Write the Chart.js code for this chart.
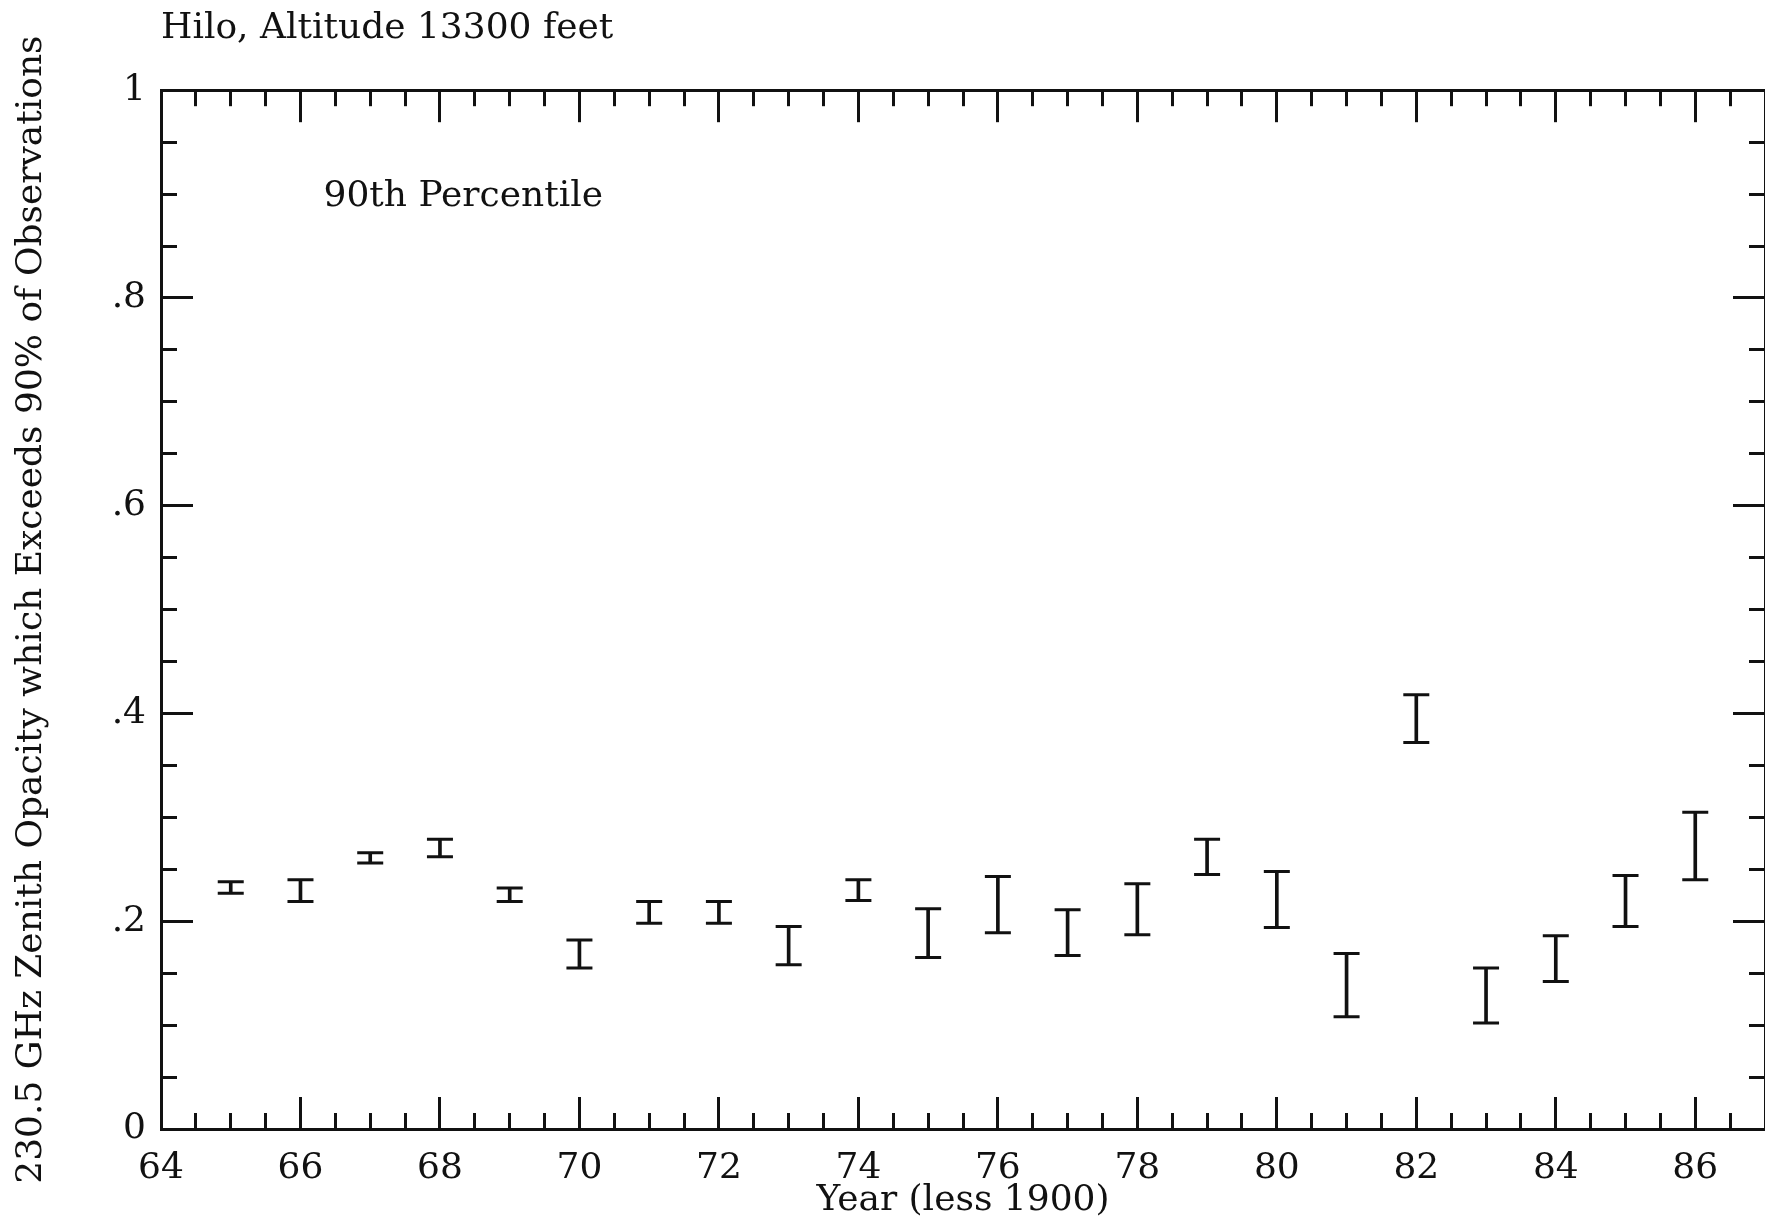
<!DOCTYPE html>
<html>
<head>
<meta charset="utf-8">
<title>Hilo 230.5 GHz zenith opacity</title>
<script src="https://cdn.jsdelivr.net/npm/chart.js@4.4.1/dist/chart.umd.min.js"></script>
<style>
  html, body { margin: 0; padding: 0; background: #fff; overflow: hidden; }
  #wrap { position: relative; width: 1765px; height: 1222px; }
  #wrap canvas { display: block; }
</style>
</head>
<body>
<div id="wrap"><canvas id="opacityChart"></canvas></div>
<script>
// yearly 90th-percentile opacity, lower and upper ends of each bar
const years = [65, 66, 67, 68, 69, 70, 71, 72, 73, 74, 75, 76, 77, 78, 79, 80, 81, 82, 83, 84, 85, 86];
const opacityHigh = [0.238, 0.240, 0.266, 0.279, 0.232, 0.182, 0.219, 0.219, 0.195, 0.240, 0.212,
                     0.243, 0.211, 0.236, 0.279, 0.248, 0.169, 0.418, 0.155, 0.186, 0.244, 0.305];
const opacityLow  = [0.227, 0.219, 0.256, 0.262, 0.219, 0.155, 0.198, 0.198, 0.158, 0.220, 0.165,
                     0.189, 0.167, 0.187, 0.245, 0.194, 0.108, 0.372, 0.102, 0.142, 0.195, 0.240];

const yearTicks = [64, 66, 68, 70, 72, 74, 76, 78, 80, 82, 84, 86];
const yearLabels = ['64', '66', '68', '70', '72', '74', '76', '78', '80', '82', '84', '86'];
const opacityTicks = [0, 0.2, 0.4, 0.6, 0.8, 1];
const opacityLabels = ['0', '.2', '.4', '.6', '.8', '1'];

const INK = '#111';
const FONT = 'DejaVu Serif';
const FONT_SIZE = 36;
const MAJOR_TICK = -32;   // negative length draws the ticks inside the frame
const MINOR_TICK = -16;

const noteLabel = { text: '90th Percentile', x: 66.33, y: 0.898 };

function frameAxis(position, min, max, extra) {
  const horizontal = position === 'top' || position === 'bottom';
  return Object.assign({
    type: 'linear',
    position: position,
    min: min,
    max: max,
    offset: false,
    grid: {
      drawOnChartArea: false,
      drawTicks: true,
      offset: false,
      tickLength: MINOR_TICK,
      tickWidth: 3,
      tickColor: INK
    },
    border: { display: true, width: 3, color: INK },
    ticks: { display: false, autoSkip: false, maxTicksLimit: 1000 },
    afterFit: function (scale) {
      if (horizontal) scale.height = 0; else scale.width = 0;
      clearPadding(scale);
    }
  }, extra);
}

// labels near the frame ends must not shrink the plot area
function clearPadding(scale) {
  scale.paddingLeft = 0;
  scale.paddingRight = 0;
  scale.paddingTop = 0;
  scale.paddingBottom = 0;
}

function majorTicks(values) {
  return function (scale) {
    scale.ticks = values.map(v => ({ value: v }));
  };
}

const notePlugin = {
  id: 'note',
  afterDatasetsDraw(chart) {
    const { ctx, scales } = chart;
    ctx.save();
    ctx.font = FONT_SIZE + 'px "' + FONT + '"';
    ctx.fillStyle = INK;
    ctx.textBaseline = 'middle';
    ctx.textAlign = 'left';
    ctx.fillText(noteLabel.text, scales.x.getPixelForValue(noteLabel.x), scales.y.getPixelForValue(noteLabel.y));
    ctx.restore();
  }
};

const axisFont = { family: FONT, size: FONT_SIZE };

const ctx = document.getElementById('opacityChart').getContext('2d');
const opacityChart = new Chart(ctx, {
  type: 'scatter',
  data: {
    datasets: [
      {
        type: 'bar',
        label: 'range',
        data: years.map((yr, i) => ({ x: yr, y: [opacityLow[i], opacityHigh[i]] })),
        backgroundColor: INK,
        borderWidth: 0,
        barThickness: 3,
        xAxisID: 'x',
        yAxisID: 'y'
      },
      {
        label: 'upper',
        data: years.map((yr, i) => ({ x: yr, y: opacityHigh[i] })),
        pointStyle: 'line',
        pointRadius: 13,
        pointBorderWidth: 3,
        pointBorderColor: INK,
        pointBackgroundColor: INK,
        xAxisID: 'x',
        yAxisID: 'y'
      },
      {
        label: 'lower',
        data: years.map((yr, i) => ({ x: yr, y: opacityLow[i] })),
        pointStyle: 'line',
        pointRadius: 13,
        pointBorderWidth: 3,
        pointBorderColor: INK,
        pointBackgroundColor: INK,
        xAxisID: 'x',
        yAxisID: 'y'
      }
    ]
  },
  options: {
    responsive: true,
    maintainAspectRatio: false,
    animation: false,
    layout: { padding: 0, autoPadding: false },
    plugins: {
      legend: { display: false },
      tooltip: { enabled: false },
      title: {
        display: true,
        text: 'Hilo, Altitude 13300 feet',
        align: 'start',
        fullSize: false,
        color: INK,
        font: { family: FONT, size: FONT_SIZE, weight: 'normal' },
        padding: { top: 7, bottom: 40 }
      }
    },
    scales: {
      x: frameAxis('bottom', 64, 87, {
        weight: 0,
        grid: { drawOnChartArea: false, offset: false, tickLength: MAJOR_TICK, tickWidth: 3, tickColor: INK },
        ticks: {
          display: true, autoSkip: false, maxRotation: 0, padding: 50, color: INK, font: axisFont,
          callback: v => { const i = yearTicks.indexOf(v); return i >= 0 ? yearLabels[i] : ''; }
        },
        afterBuildTicks: majorTicks(yearTicks),
        afterFit: s => { s.height = 93; clearPadding(s); },
        title: { display: true, text: 'Year (less 1900)', color: INK, font: axisFont, padding: { top: 0, bottom: 0 } }
      }),
      xMinor: frameAxis('bottom', 64, 87, {
        weight: -1,
        ticks: { display: false, autoSkip: false, stepSize: 0.5, maxTicksLimit: 1000 }
      }),
      xTop: frameAxis('top', 64, 87, {
        weight: 0,
        grid: { drawOnChartArea: false, offset: false, tickLength: MAJOR_TICK, tickWidth: 3, tickColor: INK },
        afterBuildTicks: majorTicks(yearTicks)
      }),
      xTopMinor: frameAxis('top', 64, 87, {
        weight: -1,
        ticks: { display: false, autoSkip: false, stepSize: 0.5, maxTicksLimit: 1000 }
      }),
      y: frameAxis('left', 0, 1, {
        weight: 0,
        grid: { drawOnChartArea: false, tickLength: MAJOR_TICK, tickWidth: 3, tickColor: INK },
        ticks: {
          display: true, autoSkip: false, padding: 47, color: INK, font: axisFont,
          callback: v => { const i = opacityTicks.findIndex(t => Math.abs(t - v) < 1e-9); return i >= 0 ? opacityLabels[i] : ''; }
        },
        afterBuildTicks: majorTicks(opacityTicks),
        afterFit: s => { s.width = 161; clearPadding(s); },
        title: {
          display: true,
          text: '230.5 GHz Zenith Opacity which Exceeds 90% of Observations',
          color: INK,
          font: axisFont,
          padding: { top: 10, bottom: 0 }
        }
      }),
      yMinor: frameAxis('left', 0, 1, {
        weight: -1,
        ticks: { display: false, autoSkip: false, stepSize: 0.05, maxTicksLimit: 1000 }
      }),
      yRight: frameAxis('right', 0, 1, {
        weight: 0,
        grid: { drawOnChartArea: false, tickLength: MAJOR_TICK, tickWidth: 3, tickColor: INK },
        afterBuildTicks: majorTicks(opacityTicks)
      }),
      yRightMinor: frameAxis('right', 0, 1, {
        weight: -1,
        ticks: { display: false, autoSkip: false, stepSize: 0.05, maxTicksLimit: 1000 }
      })
    }
  },
  plugins: [notePlugin]
});
</script>
</body>
</html>
